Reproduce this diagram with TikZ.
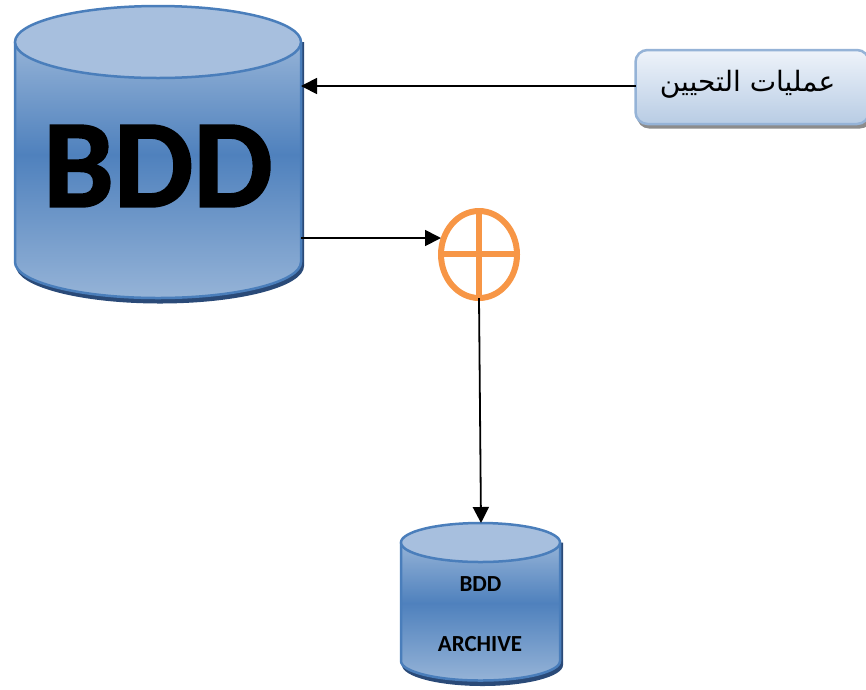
\documentclass[tikz,border=0pt]{standalone}
\usepackage{fontspec}
\setmainfont{Carlito}
\newfontfamily\heavyfont[UprightFont=*,UprightFeatures={FakeBold=1.4},BoldFont=*-Bold,BoldFeatures={FakeBold=1.4}]{Carlito}
\newfontfamily\arabicfont[Script=Arabic]{DejaVu Sans}
\TeXXeTstate=1
\usetikzlibrary{arrows.meta}
\definecolor{cylline}{HTML}{4A7EBB}
\definecolor{cyltop}{HTML}{A7BFDE}
\definecolor{cylmid}{HTML}{4F81BD}
\definecolor{cylupper}{HTML}{95B3D7}
\definecolor{cyllow}{HTML}{95B3D7}
\definecolor{cylshadow}{HTML}{2A4A78}
\definecolor{boxline}{HTML}{95B3D7}
\definecolor{boxtop}{HTML}{EEF3FA}
\definecolor{boxlow}{HTML}{B8CCE4}
\definecolor{boxshadow}{HTML}{8C8C8C}
\definecolor{sumcol}{HTML}{F79646}
\pgfdeclareverticalshading{cylgrad}{100bp}{color(0bp)=(cyllow); color(25bp)=(cyllow); color(53bp)=(cylmid); color(75bp)=(cylupper); color(100bp)=(cylupper)}
\tikzset{
  conn/.style={draw=black,line width=1.8pt,-{Triangle[length=16pt,width=16pt]}},
  cylbody/.style={shading=cylgrad,draw=none},
  cyledge/.style={draw=cylline,line width=2.5pt},
  cylcap/.style={fill=cyltop,draw=cylline,line width=2.5pt},
  cylshade/.style={fill=cylshadow,draw=none},
  anchorbox/.style={inner sep=0pt,outer sep=0pt,draw=none,fill=none},
  sumline/.style={draw=sumcol,line width=6pt},
  bigtxt/.style={anchorbox,font=\heavyfont\fontsize{126}{126}\selectfont\bfseries},
  smalltxt/.style={anchorbox,font=\fontsize{23}{23}\selectfont\bfseries},
}
\newcommand{\cylinder}[5]{% x0 x1 ytop ry ybodyend
  \path[cylshade] (#1+1,#3+#4) -- (#2+3,#3+#4) -- (#2+3,#5+4) arc[start angle=0,end angle=180,x radius={(#2-#1)/2+1},y radius=#4+1.5] -- cycle;
  \shade[cylbody] (#1,#3+#4) -- (#1,#5) arc[start angle=180,end angle=0,x radius={(#2-#1)/2},y radius=#4] -- (#2,#3+#4) -- cycle;
  \draw[cyledge] (#1,#3+#4) -- (#1,#5) arc[start angle=180,end angle=0,x radius={(#2-#1)/2},y radius=#4] -- (#2,#3+#4);
  \draw[cylcap] ({(#1+#2)/2},#3+#4) ellipse[x radius={(#2-#1)/2},y radius=#4];
}
\begin{document}
\begin{tikzpicture}[x=1pt,y=-1pt]
\useasboundingbox (0,0) rectangle (866,689);
% large cylinder
\cylinder{15}{301}{6}{36}{262}
\node[bigtxt] (bdd) at (158,166) {BDD};
\coordinate (bddin) at (301,86);
\coordinate (bddout) at (301,238);
% small cylinder
\cylinder{401}{560}{523}{19.5}{661}
\node[smalltxt] (arcA) at (480.5,584) {BDD};
\node[smalltxt] (arcB) at (480,644) {ARCHIVE};
\coordinate (arcin) at (481,523);
% rounded box
\begin{scope}
\clip (0,0) rectangle (866,689);
\fill[boxshadow,rounded corners=12pt] (637,55) rectangle (872,128.5);
\shade[top color=boxtop,bottom color=boxlow,draw=boxline,line width=2.5pt,rounded corners=12pt] (635.5,50) rectangle (869,124);
\end{scope}
\node[anchorbox,font=\arabicfont\fontsize{28}{28}\selectfont] (assign) at (747.5,84) {\beginR عمليات التحيين\endR};
\coordinate (assignout) at (635.5,86);
% summing junction
\draw[sumline] (479,254.5) ellipse[x radius=38,y radius=43.5];
\draw[sumline,line cap=butt] (479,211) -- (479,298);
\draw[sumline,line cap=butt] (441,254) -- (517,254);
\coordinate (sumin) at (441,238);
\coordinate (sumout) at (479,298);
% connectors
\draw[conn] (assignout) -- (bddin);
\draw[conn] (bddout) -- (sumin);
\draw[conn] (sumout) -- (arcin);
\end{tikzpicture}
\end{document}
